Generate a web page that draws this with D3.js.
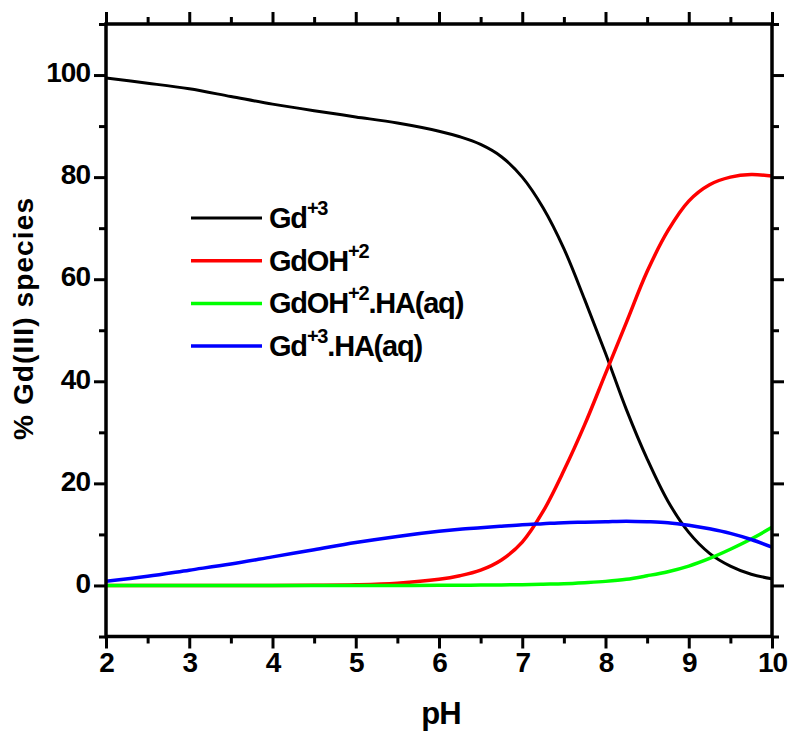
<!DOCTYPE html>
<html>
<head>
<meta charset="utf-8">
<script src="https://cdn.jsdelivr.net/npm/d3@7"></script>
<style>
  body { margin: 0; background: #fff; }
  svg { display: block; font-family: 'Liberation Sans', Arial, sans-serif; font-weight: bold; }
  .tick text { font-size: 28px; letter-spacing: -1px; fill: #000; }
  .tick line { stroke: #000; stroke-width: 3; }
</style>
</head>
<body>
<div id="chart"></div>
<script>
  // pH sample points used for every series
  const phValues = [2, 2.5, 3, 3.5, 4, 4.5, 5, 5.5, 6, 6.25, 6.5, 6.75, 7, 7.25, 7.5, 7.75, 8, 8.25, 8.5, 8.75, 9, 9.25, 9.5, 9.75, 10];

  const gd3 = [99.4, 98.4, 97.3, 95.8, 94.3, 93.0, 91.8, 90.6, 89.0, 87.9, 86.4, 84.0, 80.0, 74.0, 66.0, 56.0, 45.5, 34.5, 24.8, 16.5, 10.4, 6.3, 3.8, 2.2, 1.3];
  const gdOH2 = [0, 0, 0, 0, 0, 0.05, 0.15, 0.45, 1.2, 1.9, 3.0, 5.0, 8.5, 14.5, 22.5, 31.5, 41.5, 51.5, 61.5, 69.5, 75.3, 78.5, 80.0, 80.5, 80.2];
  const gdOH2HA = [0, 0, 0, 0, 0, 0, 0, 0, 0.02, 0.04, 0.07, 0.1, 0.15, 0.25, 0.35, 0.55, 0.8, 1.2, 1.9, 2.7, 3.8, 5.3, 7.1, 9.1, 11.4];
  const gd3HA = [0.8, 1.8, 3.0, 4.2, 5.6, 7.0, 8.4, 9.6, 10.6, 11.0, 11.3, 11.6, 11.9, 12.1, 12.3, 12.4, 12.5, 12.6, 12.5, 12.3, 11.8, 11.1, 10.2, 9.0, 7.5];

  const seriesNames = ['Gd+3', 'GdOH+2', 'GdOH+2.HA(aq)', 'Gd+3.HA(aq)'];
  const seriesColors = ['#000000', '#ff0000', '#00ff00', '#0000ff'];
  const seriesValues = [gd3, gdOH2, gdOH2HA, gd3HA];
  // legend label pieces: [base, superscript, rest]
  const legendParts = [['Gd', '+3', ''], ['GdOH', '+2', ''], ['GdOH', '+2', '.HA(aq)'], ['Gd', '+3', '.HA(aq)']];

  const xMajor = [2, 3, 4, 5, 6, 7, 8, 9, 10];
  const xMinor = [2.5, 3.5, 4.5, 5.5, 6.5, 7.5, 8.5, 9.5];
  const yMajor = [0, 20, 40, 60, 80, 100];
  const yMinor = [-10, 10, 30, 50, 70, 90, 110];

  const width = 791;
  const height = 734;
  const margin = { top: 24, right: 19, bottom: 97.5, left: 106 };
  const innerWidth = width - margin.left - margin.right;
  const innerHeight = height - margin.top - margin.bottom;

  const svg = d3.select('#chart').append('svg')
    .attr('width', width)
    .attr('height', height);

  const x = d3.scaleLinear().domain([2, 10]).range([0, innerWidth]);
  const y = d3.scaleLinear().domain([-10, 110]).range([innerHeight, 0]);

  const g = svg.append('g')
    .attr('transform', `translate(${margin.left},${margin.top})`);

  g.append('clipPath').attr('id', 'plot-clip')
    .append('rect')
    .attr('width', innerWidth)
    .attr('height', innerHeight);

  // curves
  const line = d3.line()
    .x(d => x(d[0]))
    .y(d => y(d[1]))
    .curve(d3.curveCatmullRom.alpha(0.5));

  const curves = g.append('g').attr('clip-path', 'url(#plot-clip)');
  seriesValues.forEach((vals, i) => {
    curves.append('path')
      .datum(phValues.map((p, j) => [p, vals[j]]))
      .attr('fill', 'none')
      .attr('stroke', seriesColors[i])
      .attr('stroke-width', i === 0 ? 3 : 3.5)
      .attr('d', line);
  });

  // axes: major with labels, minor without
  function addAxis(axisFn, scale, ticks, size, labels, transform) {
    const a = axisFn(scale).tickValues(ticks).tickSize(size).tickSizeOuter(0).tickPadding(4);
    const sel = g.append('g').attr('transform', transform || null).call(a);
    sel.select('.domain').remove();
    if (!labels) sel.selectAll('text').remove();
    return sel;
  }

  addAxis(d3.axisBottom, x, xMajor, 12, true, `translate(0,${innerHeight})`);
  addAxis(d3.axisBottom, x, xMinor, 7, false, `translate(0,${innerHeight})`);
  addAxis(d3.axisTop, x, xMajor, 12, false);
  addAxis(d3.axisTop, x, xMinor, 7, false);
  addAxis(d3.axisLeft, y, yMajor, 12, true).selectAll('text').attr('dy', '0.24em');
  addAxis(d3.axisLeft, y, yMinor, 7, false);
  addAxis(d3.axisRight, y, yMajor, 12, false, `translate(${innerWidth},0)`);
  addAxis(d3.axisRight, y, yMinor, 7, false, `translate(${innerWidth},0)`);

  // frame
  g.append('rect')
    .attr('width', innerWidth)
    .attr('height', innerHeight)
    .attr('fill', 'none')
    .attr('stroke', '#000')
    .attr('stroke-width', 3.5);

  // axis titles
  svg.append('text')
    .attr('x', margin.left + innerWidth / 2 + 2)
    .attr('y', 724)
    .attr('text-anchor', 'middle')
    .attr('font-size', 31)
    .attr('letter-spacing', -1)
    .text('pH');

  svg.append('text')
    .attr('transform', `translate(33, 319) rotate(-90)`)
    .attr('text-anchor', 'middle')
    .attr('font-size', 28)
    .attr('textLength', 242)
    .attr('lengthAdjust', 'spacing')
    .text('% Gd(III) species');

  // legend
  const legend = svg.append('g').attr('transform', 'translate(191, 218)');
  const rowGap = 42.7;
  seriesNames.forEach((name, i) => {
    const row = legend.append('g').attr('transform', `translate(0, ${i * rowGap})`);
    row.append('line')
      .attr('x1', 0).attr('x2', 71)
      .attr('y1', 0).attr('y2', 0)
      .attr('stroke', seriesColors[i])
      .attr('stroke-width', i === 0 ? 3 : 3.5);
    const parts = legendParts[i];
    const t = row.append('text')
      .attr('x', 78)
      .attr('y', 10)
      .attr('font-size', 29)
      .attr('letter-spacing', -1.2);
    t.append('tspan').text(parts[0]);
    t.append('tspan').attr('dy', -13).attr('font-size', 20).text(parts[1]);
    if (parts[2]) t.append('tspan').attr('dy', 13).text(parts[2]);
  });
</script>
</body>
</html>
